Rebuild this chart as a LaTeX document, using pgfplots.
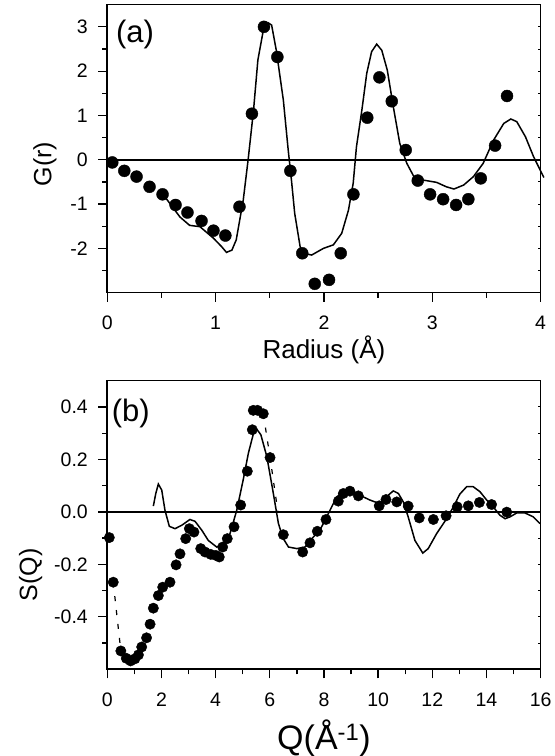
\documentclass[border=0pt]{standalone}
\usepackage{fontspec}
\setmainfont{Liberation Sans}
\usepackage{pgfplots}
\pgfplotsset{compat=1.18}
\begin{document}
\begin{tikzpicture}
\useasboundingbox (0,0) rectangle (555bp,756bp);
\pgfplotsset{
  common/.style={
    anchor=south west, scale only axis, width=433.3bp,
    /pgf/number format/assume math mode=true,
    ticklabel style={font=\fontsize{19.5bp}{23bp}\selectfont},
    xticklabel shift=11bp, yticklabel shift=7bp,
    tick align=outside, xtick pos=bottom, ytick pos=left,
    major tick length=9bp, minor tick length=5bp,
    every tick/.style={black, line width=1.3bp},
    axis line style={line width=1.6bp},
    clip=false,
  },
  rightticks/.style={
    anchor=south west, scale only axis, width=433.3bp,
    axis line style={draw=none}, xtick=\empty,
    ytick pos=right, tick align=inside, yticklabels={},
    major tick length=3bp, minor tick length=3bp,
    every tick/.style={black, line width=1bp},
  },
}
% ---------------- panel (a) ----------------
\begin{axis}[common, at={(107.3bp,463.3bp)}, height=288bp,
  xmin=0, xmax=4, ymin=-3, ymax=3.5,
  xtick={0,1,2,3,4}, minor xtick={0.5,1.5,2.5,3.5},
  ytick={-2,-1,0,1,2,3}, minor ytick={-2.5,-1.5,-0.5,0.5,1.5,2.5},
  xlabel={Radius (Å)}, ylabel={G(r)},
  xlabel style={font=\fontsize{26bp}{30bp}\selectfont, at={(axis description cs:0.5,-0.230)}, anchor=base},
  ylabel style={font=\fontsize{25bp}{30bp}\selectfont, at={(axis description cs:-0.129,0.447)}, anchor=base},
]
\addplot[black, line width=1.6bp] coordinates {(0,0) (4,0)};
\addplot[black, line width=1.5bp] coordinates {
(0.53,-0.83)(0.67,-1.29)(0.76,-1.48)(0.855,-1.51)(0.98,-1.77)(1.055,-1.96)(1.10,-2.09)(1.15,-2.04)(1.19,-1.81)(1.255,-0.91)(1.30,0.0)(1.35,1.12)(1.39,2.25)(1.44,2.92)(1.486,3.09)(1.517,3.04)(1.56,2.47)(1.625,1.35)(1.67,0.22)(1.70,-0.46)(1.73,-1.21)(1.78,-1.96)(1.81,-2.11)(1.887,-2.15)(1.995,-2.0)(2.087,-1.92)(2.164,-1.66)(2.226,-1.14)(2.27,-0.53)(2.30,0.29)(2.35,1.12)(2.395,1.95)(2.44,2.44)(2.487,2.61)(2.534,2.47)(2.585,2.02)(2.64,1.20)(2.70,0.37)(2.765,-0.08)(2.83,-0.38)(2.92,-0.46)(3.04,-0.51)(3.13,-0.61)(3.20,-0.66)(3.29,-0.57)(3.38,-0.38)(3.47,-0.08)(3.565,0.44)(3.66,0.82)(3.725,0.92)(3.78,0.86)(3.86,0.52)(3.935,0.07)(4.03,-0.40)
};
\addplot[only marks, mark=*, mark size=6bp, black] coordinates {
(0.046,-0.06)(0.157,-0.25)(0.27,-0.38)(0.39,-0.61)(0.51,-0.78)(0.63,-1.02)(0.74,-1.19)(0.87,-1.38)(0.98,-1.60)(1.09,-1.71)(1.22,-1.06)(1.335,1.04)(1.446,3.00)(1.57,2.32)(1.69,-0.25)(1.80,-2.11)(1.915,-2.80)(2.047,-2.71)(2.155,-2.11)(2.272,-0.78)(2.40,0.95)(2.512,1.86)(2.626,1.32)(2.755,0.22)(2.866,-0.47)(2.98,-0.78)(3.10,-0.89)(3.22,-1.02)(3.333,-0.89)(3.448,-0.42)(3.58,0.32)(3.69,1.44)
};
\node[anchor=base west, inner sep=0pt, font=\fontsize{31bp}{36bp}\selectfont] at (axis description cs:0.020,0.870) {(a)};
\end{axis}
\begin{axis}[rightticks, at={(107.3bp,463.3bp)}, height=288bp,
  xmin=0, xmax=4, ymin=-3, ymax=3.5,
  ytick={-2,-1,0,1,2,3}, minor ytick={-2.5,-1.5,-0.5,0.5,1.5,2.5}]
\end{axis}
% ---------------- panel (b) ----------------
\begin{axis}[common, at={(107.3bp,86.7bp)}, height=288.6bp,
  xmin=0, xmax=16, ymin=-0.6, ymax=0.5,
  xtick={0,2,...,16}, minor xtick={1,3,...,15},
  ytick={-0.4,-0.2,0,0.2,0.4}, minor ytick={-0.5,-0.3,-0.1,0.1,0.3},
  yticklabel style={/pgf/number format/.cd, fixed, fixed zerofill, precision=1},
  xlabel={Q(Å\textsuperscript{-1})}, ylabel={S(Q)},
  xlabel style={font=\fontsize{34bp}{40bp}\selectfont, at={(axis description cs:0.5,-0.279)}, anchor=base},
  ylabel style={font=\fontsize{25bp}{30bp}\selectfont, at={(axis description cs:-0.162,0.327)}, anchor=base},
]
\addplot[black, line width=1.6bp] coordinates {(0,0) (16,0)};
\addplot[black, line width=1.5bp] coordinates {
(1.70,0.022)(1.79,0.07)(1.885,0.106)(2.01,0.083)(2.13,0.006)(2.29,-0.055)(2.50,-0.064)(2.75,-0.051)(3.05,-0.029)(3.24,-0.036)(3.49,-0.070)(3.73,-0.109)(4.04,-0.134)(4.28,-0.121)(4.53,-0.083)(4.78,0.006)(5.03,0.128)(5.21,0.224)(5.40,0.300)(5.52,0.315)(5.67,0.294)(5.89,0.211)(6.11,0.083)(6.32,-0.045)(6.50,-0.102)(6.69,-0.134)(7.00,-0.140)(7.30,-0.134)(7.55,-0.102)(7.85,-0.070)(8.10,-0.019)(8.47,0.057)(8.715,0.077)(8.96,0.080)(9.27,0.066)(9.70,0.045)(10.04,0.032)(10.3,0.057)(10.56,0.080)(10.75,0.070)(10.93,0.038)(11.11,-0.019)(11.36,-0.109)(11.65,-0.157)(11.85,-0.140)(12.16,-0.083)(12.53,-0.026)(12.78,0.019)(13.02,0.068)(13.27,0.096)(13.51,0.096)(13.76,0.077)(14.01,0.045)(14.25,0.019)(14.50,-0.013)(14.69,-0.026)(14.87,-0.019)(15.12,-0.004)(15.42,-0.004)(15.73,-0.019)(15.98,-0.045)
};
\addplot[black, line width=1.2bp, dash pattern=on 5bp off 9bp] coordinates {(0.22,-0.268)(0.36,-0.40)(0.50,-0.530)};
\addplot[black, line width=1.2bp, dash pattern=on 5bp off 9bp] coordinates {(5.76,0.374)(6.01,0.207)(6.30,0.00)};
\addplot[only marks, mark=*, mark size=5.2bp, black] coordinates {
(0.074,-0.098)(0.22,-0.268)(0.50,-0.530)(0.70,-0.558)(0.86,-0.568)(1.02,-0.560)(1.15,-0.545)(1.27,-0.515)(1.45,-0.480)(1.58,-0.428)(1.70,-0.367)(1.885,-0.319)(2.045,-0.287)(2.315,-0.268)(2.54,-0.202)(2.685,-0.160)(2.895,-0.102)(3.03,-0.064)(3.20,-0.077)(3.45,-0.140)(3.61,-0.153)(3.82,-0.162)(4.01,-0.166)(4.135,-0.172)(4.26,-0.134)(4.43,-0.102)(4.68,-0.057)(4.925,0.026)(5.17,0.155)(5.355,0.313)(5.39,0.387)(5.55,0.387)(5.76,0.374)(6.01,0.207)(6.50,-0.087)(7.215,-0.153)(7.485,-0.118)(7.755,-0.074)(8.075,-0.029)(8.53,0.041)(8.715,0.070)(8.96,0.079)(9.27,0.061)(10.04,0.023)(10.29,0.047)(10.69,0.038)(11.11,0.022)(11.52,-0.023)(12.04,-0.029)(12.51,-0.015)(12.92,0.019)(13.33,0.023)(13.74,0.036)(14.19,0.028)(14.75,-0.001)
};
\node[anchor=base west, inner sep=0pt, font=\fontsize{31bp}{36bp}\selectfont] at (axis description cs:0.010,0.858) {(b)};
\end{axis}
\begin{axis}[rightticks, at={(107.3bp,86.7bp)}, height=288.6bp,
  xmin=0, xmax=16, ymin=-0.6, ymax=0.5,
  ytick={-0.4,-0.2,0,0.2,0.4}, minor ytick={-0.5,-0.3,-0.1,0.1,0.3}]
\end{axis}
\end{tikzpicture}
\end{document}
